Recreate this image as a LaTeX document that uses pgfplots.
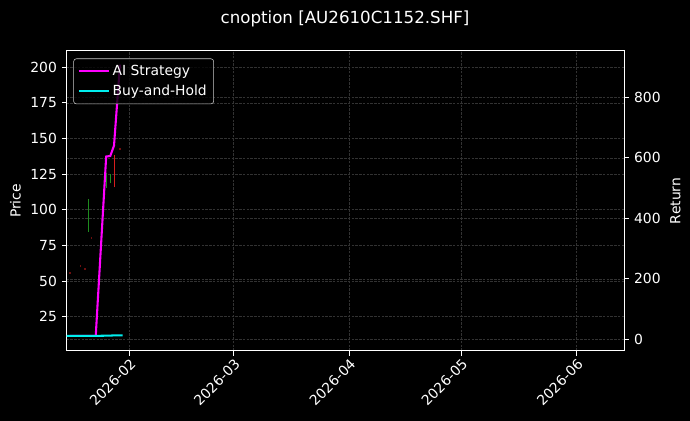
\documentclass[border=0pt]{standalone}
\usepackage{fontspec}
\setmainfont{DejaVu Sans}
\usepackage{pgfplots}
\pgfplotsset{compat=1.18}
\definecolor{gridc}{RGB}{50,50,50}
\definecolor{aimag}{RGB}{255,0,255}
\definecolor{bhcyan}{RGB}{0,238,238}
\definecolor{cup}{RGB}{30,140,30}
\definecolor{cdown}{RGB}{215,30,30}
\definecolor{cdot}{RGB}{110,15,15}

\pgfplotsset{
  chartbase/.style={
    at={(48pt,50.4pt)}, anchor=south west,
    scale only axis, width=401.5pt, height=216pt,
    xmin=14.2, xmax=163.8,
    axis line style={white, line width=0.7pt},
    tick style={white, line width=0.7pt},
    tick align=outside, major tick length=3.5pt,
    ticklabel style={white, font=\fontsize{10}{12}\selectfont},
    label style={white, font=\fontsize{10}{12}\selectfont},
    /pgf/number format/assume math mode=true,
    grid=major,
    major grid style={gridc, dash pattern=on 1.8pt off 0.9pt, line width=0.35pt},
  },
  candle/.style={line width=0.9pt, forget plot},
}

\begin{document}
\begin{tikzpicture}
\fill[black] (0,0) rectangle (496.8pt,303.1pt);
\useasboundingbox (0,0) rectangle (496.8pt,303.1pt);
\node[white, font=\fontsize{12}{14}\selectfont] at (248.4pt,289.4pt) {cnoption [AU2610C1152.SHF]};

% price axis (left), candles
\begin{axis}[
  chartbase,
  ymin=0.9, ymax=211.4,
  xtick pos=bottom, ytick pos=left,
  xtick={31,59,90,120,151},
  xticklabels={2026-02,2026-03,2026-04,2026-05,2026-06},
  xticklabel style={rotate=45, anchor=north east, inner sep=1pt},
  ytick={25,50,...,200},
  ylabel={Price},
]
\addplot[candle, cdot] coordinates {(15.1,55.2) (15.1,56.4)};
\addplot[candle, cdot] coordinates {(18.0,59.9) (18.0,61.1)};
\addplot[candle, cdot] coordinates {(19.1,57.8) (19.1,59.0)};
\addplot[candle, cup] coordinates {(20.0,84.6) (20.0,107.5)};
\addplot[candle, cdot] coordinates {(20.9,79.4) (20.9,80.6)};
\addplot[candle, cup] coordinates {(24.9,115.3) (24.9,125.8)};
\addplot[candle, cup] coordinates {(26.0,118.5) (26.0,125.0)};
\addplot[candle, cdown] coordinates {(27.0,115.7) (27.0,138.4)};
\addplot[candle, cdot] coordinates {(28.5,142.0) (28.5,143.2)};
\end{axis}

% return axis (right), strategy lines
\begin{axis}[
  chartbase,
  ymin=-38.7, ymax=953,
  axis y line*=right, axis x line=none,
  ytick={0,200,...,800},
  ylabel={Return},
  legend cell align=left,
  legend image code/.code={\draw[#1] (0pt,0pt) -- (21.6pt,0pt);},
  legend style={
    at={(0.012,0.975)}, anchor=north west,
    fill=black, fill opacity=0.8, text opacity=1, draw opacity=1,
    draw={rgb,255:red,200;green,200;blue,200}, rounded corners=2pt,
    text=white, font=\fontsize{10}{12}\selectfont,
    inner xsep=3pt, inner ysep=2.5pt, row sep=1.5pt,
  },
]
\addplot[aimag, line width=1.5pt] coordinates {
  (15.1,11) (18.0,11) (19.1,11) (20.0,11) (20.9,11) (22.0,11)
  (24.8,604) (25.9,606) (26.9,640) (28.5,908)
};
\addplot[bhcyan, line width=1.5pt] coordinates {
  (14.2,11) (15.1,11) (18.0,11) (19.1,11) (20.0,11) (20.9,11) (22.0,11)
  (24.8,12) (25.9,12) (26.9,13) (28.0,13) (29.2,13)
};
\legend{AI Strategy, Buy-and-Hold}
\end{axis}
\end{tikzpicture}
\end{document}
